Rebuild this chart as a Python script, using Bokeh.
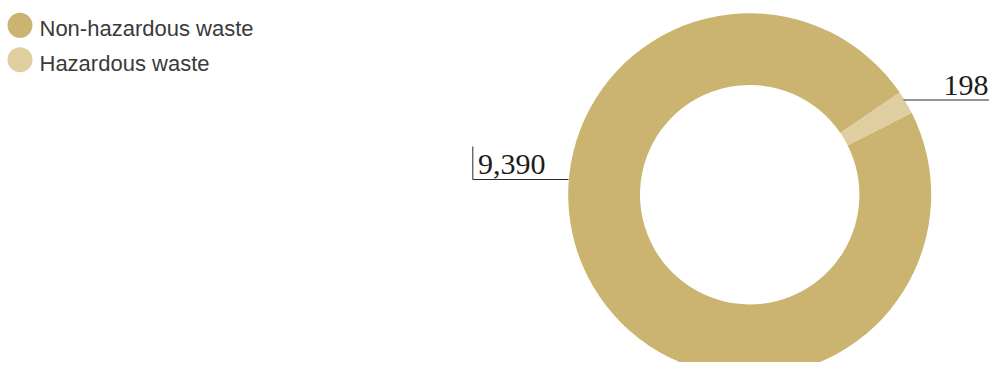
import math
from bokeh.plotting import figure
from bokeh.models import Range1d, ColumnDataSource
from bokeh.core.properties import value
from bokeh.embed import file_html
from bokeh.resources import INLINE

# ---- data ----
categories = ["Non-hazardous waste", "Hazardous waste"]
amounts = [9390, 198]
labels = ["9,390", "198"]
colors = ["#CBB470", "#DFCFA0"]

# ---- layout (pixel-like coordinates: x = image x, y = 370 - image y) ----
W, H = 989, 362
p = figure(width=W, height=H, output_backend="svg", toolbar_location=None,
           x_range=Range1d(0, W), y_range=Range1d(370 - H, 370),
           min_border=0, outline_line_color=None, background_fill_color="white")
p.axis.visible = False
p.grid.visible = False

cx, cy = 749.2, 370 - 194.2
r_in, r_out = 109.7, 181.5

total = sum(amounts)
haz_start = math.radians(26.8)
fracs = [a / total for a in amounts]
# hazardous wedge first (counter-clockwise), non-hazardous fills the rest
haz_end = haz_start + fracs[1] * 2 * math.pi
starts = [haz_end, haz_start]
ends = [haz_end + fracs[0] * 2 * math.pi, haz_end]

src = ColumnDataSource(dict(start=starts, end=ends, color=colors, cat=categories))
p.annular_wedge(x=cx, y=cy, inner_radius=r_in, outer_radius=r_out,
                start_angle="start", end_angle="end", direction="anticlock",
                fill_color="color", line_color=None, source=src)

# leader lines
line_col = "#2b2b2b"
p.segment(x0=[903, 472.3, 472.3], y0=[370 - 99.5, 370 - 146, 370 - 179],
          x1=[W, 472.3, 568], y1=[370 - 99.5, 370 - 179, 370 - 179],
          line_color=line_col, line_width=1)

# value labels (offset compensates the svg baseline placement)
dy = 9
serif = value("Liberation Serif")
p.text(x=[477.5], y=[370 - 173.3 + dy], text=[labels[0]], text_font=serif,
       text_font_size="30px", text_color="#1c1c1c",
       text_align="left", text_baseline="alphabetic")
p.text(x=[W - 1], y=[370 - 94.3 + dy], text=[labels[1]], text_font=serif,
       text_font_size="30px", text_color="#1c1c1c",
       text_align="right", text_baseline="alphabetic")

# legend (manual)
leg_y_circ = [370 - 24.8, 370 - 59.2]
leg_y_text = [370 - 36.7 + dy, 370 - 71.5 + dy]
p.scatter(x=[19.5, 19.5], y=leg_y_circ, size=25, marker="circle",
          fill_color=colors, line_color=None)
p.text(x=[39, 39], y=leg_y_text, text=categories, text_font=value("Liberation Sans"),
       text_font_size="22px", text_color="#3a3a3a",
       text_align="left", text_baseline="alphabetic")

open("out.html", "w").write(file_html(p, INLINE))
